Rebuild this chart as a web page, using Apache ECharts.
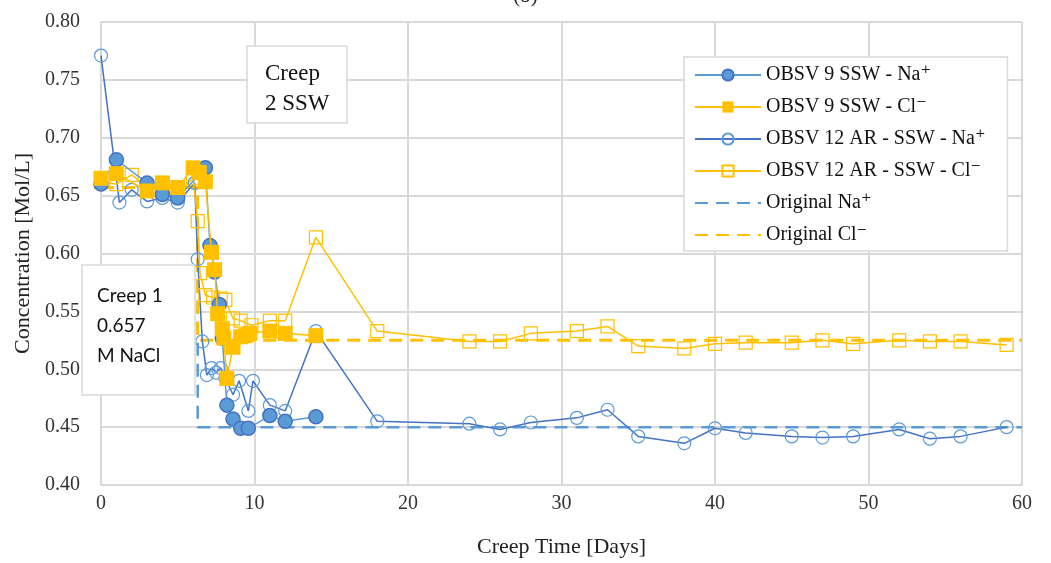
<!DOCTYPE html>
<html>
<head>
<meta charset="utf-8">
<script src="https://cdn.jsdelivr.net/npm/echarts@6/dist/echarts.min.js"></script>
<style>
  html, body { margin: 0; padding: 0; background: #fff; }
  #chart { width: 1051px; height: 563px; }
</style>
</head>
<body>
<div id="chart"></div>
<script>
// OBSV 9 SSW - Na+
const obsv9NaDays = [0, 1, 3, 4, 5, 6.8, 7.1, 7.4, 7.7, 7.9, 8.2, 8.6, 9.1, 9.6, 11, 12, 14]
const obsv9NaValues = [0.660, 0.681, 0.661, 0.651, 0.648, 0.674, 0.607, 0.584, 0.556, 0.527, 0.469, 0.457, 0.449, 0.449, 0.460, 0.455, 0.459]

// OBSV 9 SSW - Cl-
const obsv9ClDays = [0, 1, 3, 4, 5, 6, 6.4, 6.8, 7.2, 7.4, 7.6, 7.9, 8.0, 8.2, 8.6, 9.1, 9.4, 9.7, 11, 12, 14]
const obsv9ClValues = [0.665, 0.669, 0.654, 0.661, 0.657, 0.674, 0.670, 0.662, 0.601, 0.586, 0.548, 0.535, 0.527, 0.492, 0.519, 0.528, 0.529, 0.531, 0.533, 0.531, 0.529]

// OBSV 12 AR - SSW - Na+
const obsv12NaDays = [0, 1.2, 2, 3, 4, 5, 6.1, 6.3, 6.6, 6.9, 7.2, 7.5, 7.8, 8.1, 8.6, 9.0, 9.6, 9.9, 11, 12, 14, 18, 24, 26, 28, 31, 33, 35, 38, 40, 42, 45, 47, 49, 52, 54, 56, 59]
const obsv12NaValues = [0.771, 0.644, 0.655, 0.645, 0.648, 0.644, 0.661, 0.595, 0.524, 0.495, 0.501, 0.497, 0.501, 0.492, 0.478, 0.490, 0.464, 0.490, 0.469, 0.464, 0.533, 0.455, 0.453, 0.448, 0.454, 0.458, 0.465, 0.442, 0.436, 0.449, 0.445, 0.442, 0.441, 0.442, 0.448, 0.440, 0.442, 0.450]

// OBSV 12 AR - SSW - Cl-
const obsv12ClDays = [0, 1, 2, 3, 4, 5, 6, 6.3, 6.45, 6.8, 7.3, 7.8, 8.1, 8.6, 9.1, 9.8, 11, 12, 14, 18, 24, 26, 28, 31, 33, 35, 38, 40, 42, 45, 47, 49, 52, 54, 56, 59]
const obsv12ClValues = [0.662, 0.660, 0.668, 0.657, 0.658, 0.652, 0.665, 0.628, 0.583, 0.564, 0.562, 0.561, 0.560, 0.544, 0.542, 0.538, 0.542, 0.542, 0.614, 0.533, 0.524, 0.524, 0.531, 0.533, 0.537, 0.520, 0.518, 0.522, 0.523, 0.523, 0.525, 0.522, 0.525, 0.524, 0.524, 0.521]

// Original concentrations (step at creep stage change)
const originalNaDays = [0, 6.3, 6.3, 60]
const originalNaValues = [0.657, 0.657, 0.450, 0.450]
const originalClDays = [0, 6.3, 6.3, 60]
const originalClValues = [0.657, 0.657, 0.525, 0.525]

const xTicks = { min: 0, max: 60, interval: 10 }
const yTicks = { min: 0.40, max: 0.80, interval: 0.05 }

const serif = '"Liberation Serif", "DejaVu Serif", serif'
const blueLight = '#5B9BD5'
const blueDark = '#4472C4'
const gold = '#FFC000'

function zip(xs, ys) {
  return xs.map((x, i) => [x, ys[i]])
}

const seriesNames = [
  'OBSV 9 SSW - Na⁺',
  'OBSV 9 SSW - Cl⁻',
  'OBSV 12 AR - SSW - Na⁺',
  'OBSV 12 AR - SSW - Cl⁻',
  'Original Na⁺',
  'Original Cl⁻',
]

const chart = echarts.init(document.getElementById('chart'))

chart.setOption({
  animation: false,
  backgroundColor: '#fff',
  title: {
    text: '(b)',
    left: 'center',
    top: -19,
    textStyle: { fontFamily: serif, fontSize: 21, fontWeight: 'normal', color: '#222' },
  },
  grid: { left: 101, right: 29, top: 22, bottom: 76 },
  legend: {
    orient: 'vertical',
    left: 684,
    top: 57,
    padding: [8, 22, 6, 10],
    itemWidth: 66,
    itemHeight: 14,
    itemGap: 12,
    backgroundColor: '#fff',
    borderColor: '#d9d9d9',
    borderWidth: 1.5,
    textStyle: { fontFamily: serif, fontSize: 20, color: '#111', lineHeight: 20 },
    data: seriesNames.map((name, i) => (i < 4 ? { name } : { name, itemStyle: { opacity: 0 } })),
  },
  xAxis: {
    type: 'value',
    ...xTicks,
    name: 'Creep Time [Days]',
    nameLocation: 'middle',
    nameGap: 51,
    nameTextStyle: { fontFamily: serif, fontSize: 22, color: '#222' },
    axisLine: { show: true, lineStyle: { color: '#d9d9d9', width: 2 } },
    axisTick: { show: false },
    axisLabel: { fontFamily: serif, fontSize: 20, color: '#333', margin: 9 },
    splitLine: { show: true, lineStyle: { color: '#d9d9d9', width: 2 } },
  },
  yAxis: {
    type: 'value',
    ...yTicks,
    name: 'Concentration [Mol/L]',
    nameLocation: 'middle',
    nameGap: 66,
    nameTextStyle: { fontFamily: serif, fontSize: 22, color: '#222' },
    axisLine: { show: true, lineStyle: { color: '#d9d9d9', width: 2 } },
    axisTick: { show: false },
    axisLabel: {
      fontFamily: serif, fontSize: 20, color: '#333', margin: 21,
      formatter: (v) => v.toFixed(2),
    },
    splitLine: { show: true, lineStyle: { color: '#d9d9d9', width: 2 } },
  },
  series: [
    {
      name: seriesNames[0],
      type: 'line',
      data: zip(obsv9NaDays, obsv9NaValues),
      symbol: 'circle',
      symbolSize: 14,
      lineStyle: { color: blueLight, width: 1.5 },
      itemStyle: { color: blueLight, borderColor: blueDark, borderWidth: 1.5 },
      z: 4,
    },
    {
      name: seriesNames[1],
      type: 'line',
      data: zip(obsv9ClDays, obsv9ClValues),
      symbol: 'rect',
      symbolSize: 15,
      lineStyle: { color: gold, width: 1.5 },
      itemStyle: { color: gold },
      z: 5,
    },
    {
      name: seriesNames[2],
      type: 'line',
      data: zip(obsv12NaDays, obsv12NaValues),
      symbol: 'circle',
      symbolSize: 13,
      lineStyle: { color: blueDark, width: 1.5 },
      itemStyle: { color: 'rgba(255,255,255,0)', borderColor: blueLight, borderWidth: 1.2 },
      z: 3,
    },
    {
      name: seriesNames[3],
      type: 'line',
      data: zip(obsv12ClDays, obsv12ClValues),
      symbol: 'rect',
      symbolSize: 13,
      lineStyle: { color: gold, width: 1.5 },
      itemStyle: { color: 'rgba(255,255,255,0)', borderColor: gold, borderWidth: 1.2 },
      z: 3,
    },
    {
      name: seriesNames[4],
      type: 'line',
      data: zip(originalNaDays, originalNaValues),
      symbol: 'none',
      lineStyle: { color: blueLight, width: 2.5, type: [13, 8] },
      itemStyle: { color: blueLight },
      z: 2,
    },
    {
      name: seriesNames[5],
      type: 'line',
      data: zip(originalClDays, originalClValues),
      symbol: 'none',
      lineStyle: { color: gold, width: 3, type: [13, 8] },
      itemStyle: { color: gold },
      z: 2,
    },
  ],
  graphic: [
    {
      type: 'rect',
      z: 100,
      shape: { x: 247, y: 46, width: 100, height: 77 },
      style: { fill: '#fff', stroke: '#d9d9d9', lineWidth: 1.5 },
    },
    {
      type: 'text',
      z: 101,
      x: 265,
      y: 59,
      style: { text: 'Creep\n2 SSW', font: '23px "Liberation Serif", serif', fill: '#111', lineHeight: 30 },
    },
    {
      type: 'rect',
      z: 100,
      shape: { x: 82, y: 265, width: 113, height: 130 },
      style: { fill: '#fff', stroke: '#d9d9d9', lineWidth: 1.5 },
    },
    {
      type: 'text',
      z: 101,
      x: 97,
      y: 281,
      style: { text: 'Creep 1\n0.657\nM NaCl', font: '19px Lato, "Open Sans", sans-serif', fill: '#111', lineHeight: 30 },
    },
  ],
})
</script>
</body>
</html>
